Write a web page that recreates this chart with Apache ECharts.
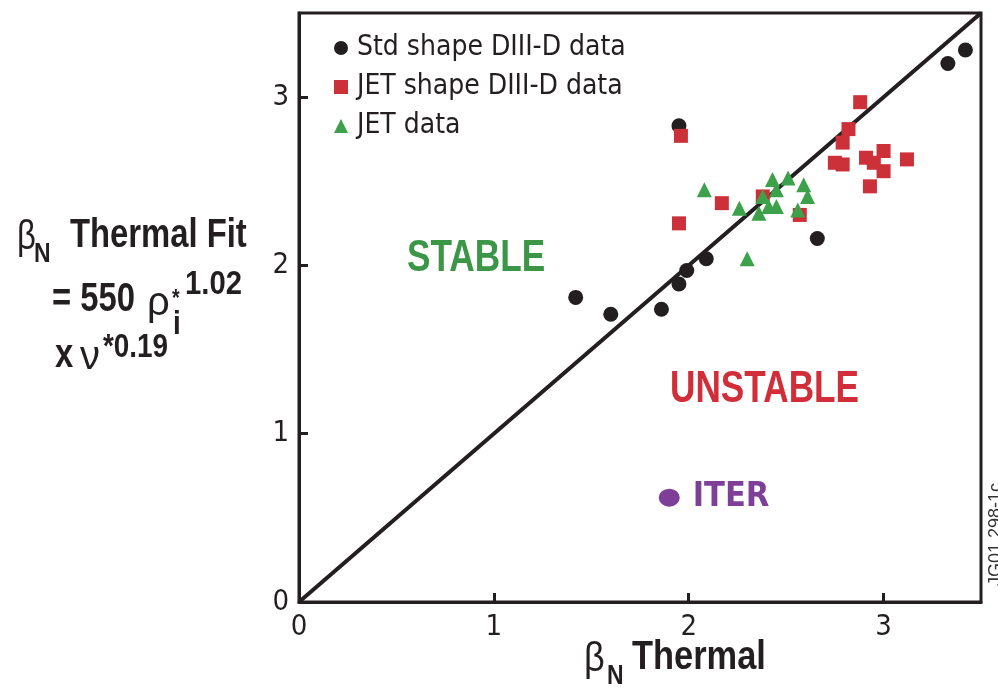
<!DOCTYPE html>
<html>
<head>
<meta charset="utf-8">
<script src="https://cdn.jsdelivr.net/npm/echarts@6/dist/echarts.min.js"></script>
<style>
  html, body { margin: 0; padding: 0; background: #fff; }
  #chart { width: 998px; height: 688px; }
</style>
</head>
<body>
<div id="chart"></div>
<script>
// data: [beta_N thermal, beta_N thermal fit]
const stdShape = [
  [3.42, 3.28], [3.33, 3.20], [1.95, 2.83], [1.42, 1.81], [1.60, 1.71],
  [1.86, 1.74], [1.95, 1.89], [1.99, 1.97], [2.09, 2.04], [2.66, 2.16]
];
const jetShape = [
  [1.96, 2.77], [2.88, 2.97], [2.82, 2.81], [2.79, 2.73], [2.75, 2.61],
  [2.79, 2.60], [2.91, 2.64], [2.95, 2.61], [3.00, 2.68], [3.00, 2.56],
  [2.93, 2.47], [3.12, 2.63], [2.17, 2.37], [1.95, 2.25], [2.38, 2.41],
  [2.57, 2.30]
];
const jetData = [
  [2.08, 2.45], [2.26, 2.34], [2.30, 2.04], [2.36, 2.31], [2.38, 2.41],
  [2.41, 2.35], [2.45, 2.35], [2.43, 2.51], [2.45, 2.45], [2.51, 2.52],
  [2.59, 2.48], [2.61, 2.41], [2.56, 2.33]
];
const iterPoint = [[1.90, 0.62]];
const diagonal = [[0, 0], [3.5, 3.5]];
const tickValues = [0, 1, 2, 3];

const INK = '#231f20';
const RED = '#cc3038';
const GREEN = '#3da04a';
const PURPLE = '#7e3f98';
const COND = '"DejaVu Sans Condensed", "Liberation Sans", sans-serif';
const SANS = '"Liberation Sans", Arial, sans-serif';

const chart = echarts.init(document.getElementById('chart'));

// text squeezed horizontally to look like a condensed face
function txt(x, y, text, size, weight, color, sx, extra) {
  return Object.assign({
    type: 'text',
    x: x,
    y: y,
    scaleX: sx || 0.82,
    style: {
      text: text,
      font: weight + ' ' + size + 'px ' + SANS,
      fill: color || INK,
      align: 'left',
      verticalAlign: 'middle',
      textAlign: 'left',
      textVerticalAlign: 'middle'
    }
  }, extra || {});
}

const option = {
  backgroundColor: '#fff',
  animation: false,
  grid: {
    left: 299, right: 17, top: 13, bottom: 86,
    show: true,
    borderColor: INK,
    borderWidth: 3
  },
  legend: {
    orient: 'vertical',
    left: 334,
    top: 34,
    padding: 0,
    itemWidth: 14,
    itemHeight: 14,
    itemGap: 11,
    textStyle: {
      fontFamily: COND,
      fontSize: 28,
      color: INK,
      padding: [0, 0, 0, 4]
    },
    data: [
      { name: 'Std shape DIII-D data', icon: 'circle' },
      { name: 'JET shape DIII-D data', icon: 'rect' },
      { name: 'JET data', icon: 'triangle' }
    ]
  },
  xAxis: {
    type: 'value',
    min: 0, max: 3.5, interval: 1,
    axisLine: { lineStyle: { color: INK, width: 3 } },
    axisTick: { inside: true, length: 9, lineStyle: { color: INK, width: 3 }, customValues: tickValues },
    axisLabel: { customValues: tickValues, color: INK, fontFamily: COND, fontSize: 29, margin: 11 },
    splitLine: { show: false }
  },
  yAxis: {
    type: 'value',
    min: 0, max: 3.5, interval: 1,
    axisLine: { lineStyle: { color: INK, width: 3 } },
    axisTick: { inside: true, length: 9, lineStyle: { color: INK, width: 3 }, customValues: tickValues },
    axisLabel: { customValues: tickValues, color: INK, fontFamily: COND, fontSize: 29, margin: 10 },
    splitLine: { show: false }
  },
  series: [
    {
      name: 'diagonal',
      type: 'line',
      data: diagonal,
      symbol: 'none',
      lineStyle: { color: INK, width: 4 },
      z: 1
    },
    {
      name: 'Std shape DIII-D data',
      type: 'scatter',
      data: stdShape,
      symbol: 'circle',
      symbolSize: 15,
      itemStyle: { color: INK, opacity: 1 },
      z: 3
    },
    {
      name: 'JET shape DIII-D data',
      type: 'scatter',
      data: jetShape,
      symbol: 'rect',
      symbolSize: 14,
      itemStyle: { color: RED, opacity: 1 },
      z: 3
    },
    {
      name: 'JET data',
      type: 'scatter',
      data: jetData,
      symbol: 'triangle',
      symbolSize: 15,
      itemStyle: { color: GREEN, opacity: 1 },
      z: 3
    },
    {
      name: 'ITER',
      type: 'scatter',
      data: iterPoint,
      symbol: 'circle',
      symbolSize: [21, 18],
      itemStyle: { color: PURPLE, opacity: 1 },
      label: {
        show: true,
        position: 'right',
        distance: 13,
        formatter: 'ITER',
        color: PURPLE,
        fontFamily: COND,
        fontWeight: 'bold',
        fontSize: 34
      },
      z: 3
    }
  ],
  graphic: [
    // region labels
    txt(407, 259, 'STABLE', 44, 'bold', '#3b9648', 0.8),
    txt(670, 390, 'UNSTABLE', 44, 'bold', '#d12e3a', 0.8),
    // y axis title
    txt(17, 238, 'β', 40, 'normal'),
    txt(34, 254, 'N', 28, 'bold'),
    txt(70, 236, 'Thermal Fit', 40, 'bold'),
    txt(52, 300, '= 550', 40, 'bold'),
    txt(147, 304, 'ρ', 40, 'normal', INK, 1),
    txt(172, 299, '*', 24, 'bold'),
    txt(173, 325, 'i', 34, 'bold'),
    txt(185, 285, '1.02', 34, 'bold', INK, 0.86),
    txt(55, 356, 'x', 40, 'bold'),
    txt(80, 358, 'ν', 40, 'normal', INK, 1),
    txt(103, 348, '*0.19', 34, 'bold'),
    // x axis title
    txt(584, 660, 'β', 40, 'normal', INK, 0.9),
    txt(607, 676, 'N', 28, 'bold'),
    txt(632, 658, 'Thermal', 40, 'bold', INK, 0.86),
    // figure code along the right edge
    txt(996, 586, 'JG01.298-1c', 18, 'normal', '#333', 1, { rotation: Math.PI / 2 })
  ]
};

chart.setOption(option);
</script>
</body>
</html>
